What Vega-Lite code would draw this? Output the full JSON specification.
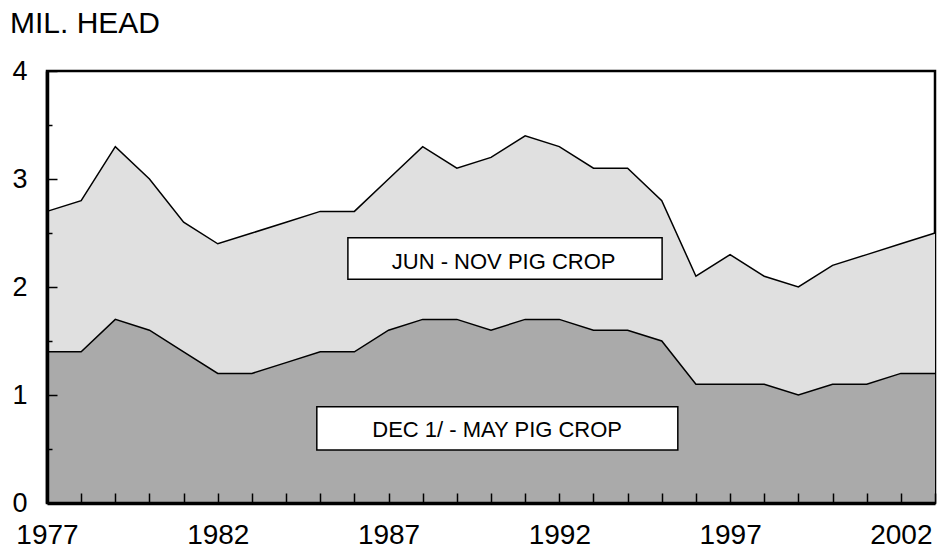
{
  "$schema": "https://vega.github.io/schema/vega-lite/v6.json",
  "width": 888,
  "height": 432,
  "autosize": {"type": "none"},
  "padding": {"left": 47, "top": 71, "right": 3, "bottom": 45},
  "background": "white",
  "config": {
    "view": {"stroke": "black", "strokeWidth": 2.5},
    "font": "Liberation Sans"
  },
  "title": {
    "text": "MIL. HEAD",
    "anchor": "start",
    "frame": "group",
    "dx": -37,
    "dy": 26,
    "offset": 20,
    "baseline": "alphabetic",
    "font": "Liberation Sans",
    "fontSize": 30,
    "fontWeight": "normal",
    "color": "black"
  },
  "datasets": {
    "crop": [
      {"year": 1977, "decmay": 1.4, "total": 2.7},
      {"year": 1978, "decmay": 1.4, "total": 2.8},
      {"year": 1979, "decmay": 1.7, "total": 3.3},
      {"year": 1980, "decmay": 1.6, "total": 3.0},
      {"year": 1981, "decmay": 1.4, "total": 2.6},
      {"year": 1982, "decmay": 1.2, "total": 2.4},
      {"year": 1983, "decmay": 1.2, "total": 2.5},
      {"year": 1984, "decmay": 1.3, "total": 2.6},
      {"year": 1985, "decmay": 1.4, "total": 2.7},
      {"year": 1986, "decmay": 1.4, "total": 2.7},
      {"year": 1987, "decmay": 1.6, "total": 3.0},
      {"year": 1988, "decmay": 1.7, "total": 3.3},
      {"year": 1989, "decmay": 1.7, "total": 3.1},
      {"year": 1990, "decmay": 1.6, "total": 3.2},
      {"year": 1991, "decmay": 1.7, "total": 3.4},
      {"year": 1992, "decmay": 1.7, "total": 3.3},
      {"year": 1993, "decmay": 1.6, "total": 3.1},
      {"year": 1994, "decmay": 1.6, "total": 3.1},
      {"year": 1995, "decmay": 1.5, "total": 2.8},
      {"year": 1996, "decmay": 1.1, "total": 2.1},
      {"year": 1997, "decmay": 1.1, "total": 2.3},
      {"year": 1998, "decmay": 1.1, "total": 2.1},
      {"year": 1999, "decmay": 1.0, "total": 2.0},
      {"year": 2000, "decmay": 1.1, "total": 2.2},
      {"year": 2001, "decmay": 1.1, "total": 2.3},
      {"year": 2002, "decmay": 1.2, "total": 2.4},
      {"year": 2003, "decmay": 1.2, "total": 2.5}
    ],
    "labels": [
      {"label": "JUN - NOV PIG CROP", "x1": 1985.81, "x2": 1995.01, "y1": 2.456, "y2": 2.071, "tx": 1990.37, "ty": 2.232},
      {"label": "DEC 1/ - MAY PIG CROP", "x1": 1984.90, "x2": 1995.47, "y1": 0.892, "y2": 0.491, "tx": 1990.18, "ty": 0.676}
    ]
  },
  "layer": [
    {
      "mark": {"type": "rule", "color": "black", "strokeWidth": 1.5},
      "encoding": {
        "y": {"datum": 3, "type": "quantitative", "scale": {"domain": [0, 4], "nice": false}}
      }
    },
    {
      "data": {"name": "crop"},
      "mark": {"type": "area", "color": "#e0e0e0", "opacity": 1},
      "encoding": {
        "x": {
          "field": "year", "type": "quantitative",
          "scale": {"domain": [1977, 2003], "nice": false, "zero": false},
          "axis": {
            "title": null,
            "zindex": 1,
            "tickCount": 100,
            "values": [1977,1978,1979,1980,1981,1982,1983,1984,1985,1986,1987,1988,1989,1990,1991,1992,1993,1994,1995,1996,1997,1998,1999,2000,2001,2002,2003],
            "labelExpr": "(datum.value - 1977) % 5 === 0 ? datum.value + '' : ''",
            "labelFontSize": {"condition": {"test": "(datum.value - 1977) % 5 === 0", "value": 28}, "value": 0},
            "format": "d",
            "grid": false,
            "domainColor": "black",
            "domainWidth": 3.5,
            "tickColor": "black",
            "tickWidth": 1.5,
            "tickSize": -10,
            "labelFont": "Liberation Sans",
            "labelColor": "black",
            "labelPadding": 28,
            "labelFlush": false,
            "labelOverlap": false
          }
        },
        "y": {
          "field": "total", "type": "quantitative",
          "scale": {"domain": [0, 4], "nice": false},
          "axis": {
            "title": null,
            "zindex": 1,
            "tickCount": 50,
            "values": [0, 0.5, 1, 1.5, 2, 2.5, 3, 3.5, 4],
            "labelExpr": "datum.value % 1 === 0 ? datum.value + '' : ''",
            "labelFontSize": {"condition": {"test": "datum.value % 1 === 0", "value": 27}, "value": 0},
            "grid": false,
            "domainColor": "black",
            "domainWidth": 3.5,
            "tickColor": "black",
            "tickWidth": 1.5,
            "tickSize": {"condition": {"test": "datum.value % 1 === 0", "value": -10}, "value": -5},
            "labelFont": "Liberation Sans",
            "labelColor": "black",
            "labelPadding": 30,
            "labelFlush": false,
            "labelOverlap": false
          }
        }
      }
    },
    {
      "data": {"name": "crop"},
      "mark": {"type": "area", "color": "#aaaaaa", "opacity": 1},
      "encoding": {
        "x": {"field": "year", "type": "quantitative"},
        "y": {"field": "decmay", "type": "quantitative"}
      }
    },
    {
      "data": {"name": "crop"},
      "mark": {"type": "line", "color": "black", "strokeWidth": 1.5},
      "encoding": {
        "x": {"field": "year", "type": "quantitative"},
        "y": {"field": "total", "type": "quantitative"}
      }
    },
    {
      "data": {"name": "crop"},
      "mark": {"type": "line", "color": "black", "strokeWidth": 1.5},
      "encoding": {
        "x": {"field": "year", "type": "quantitative"},
        "y": {"field": "decmay", "type": "quantitative"}
      }
    },
    {
      "data": {"name": "labels"},
      "mark": {"type": "rect", "fill": "white", "stroke": "black", "strokeWidth": 1.5},
      "encoding": {
        "x": {"field": "x1", "type": "quantitative"},
        "x2": {"field": "x2"},
        "y": {"field": "y1", "type": "quantitative"},
        "y2": {"field": "y2"}
      }
    },
    {
      "data": {"name": "labels"},
      "mark": {"type": "text", "font": "Liberation Sans", "fontSize": 22, "color": "black", "align": "center", "baseline": "middle"},
      "encoding": {
        "x": {"field": "tx", "type": "quantitative"},
        "y": {"field": "ty", "type": "quantitative"},
        "text": {"field": "label"}
      }
    }
  ]
}
